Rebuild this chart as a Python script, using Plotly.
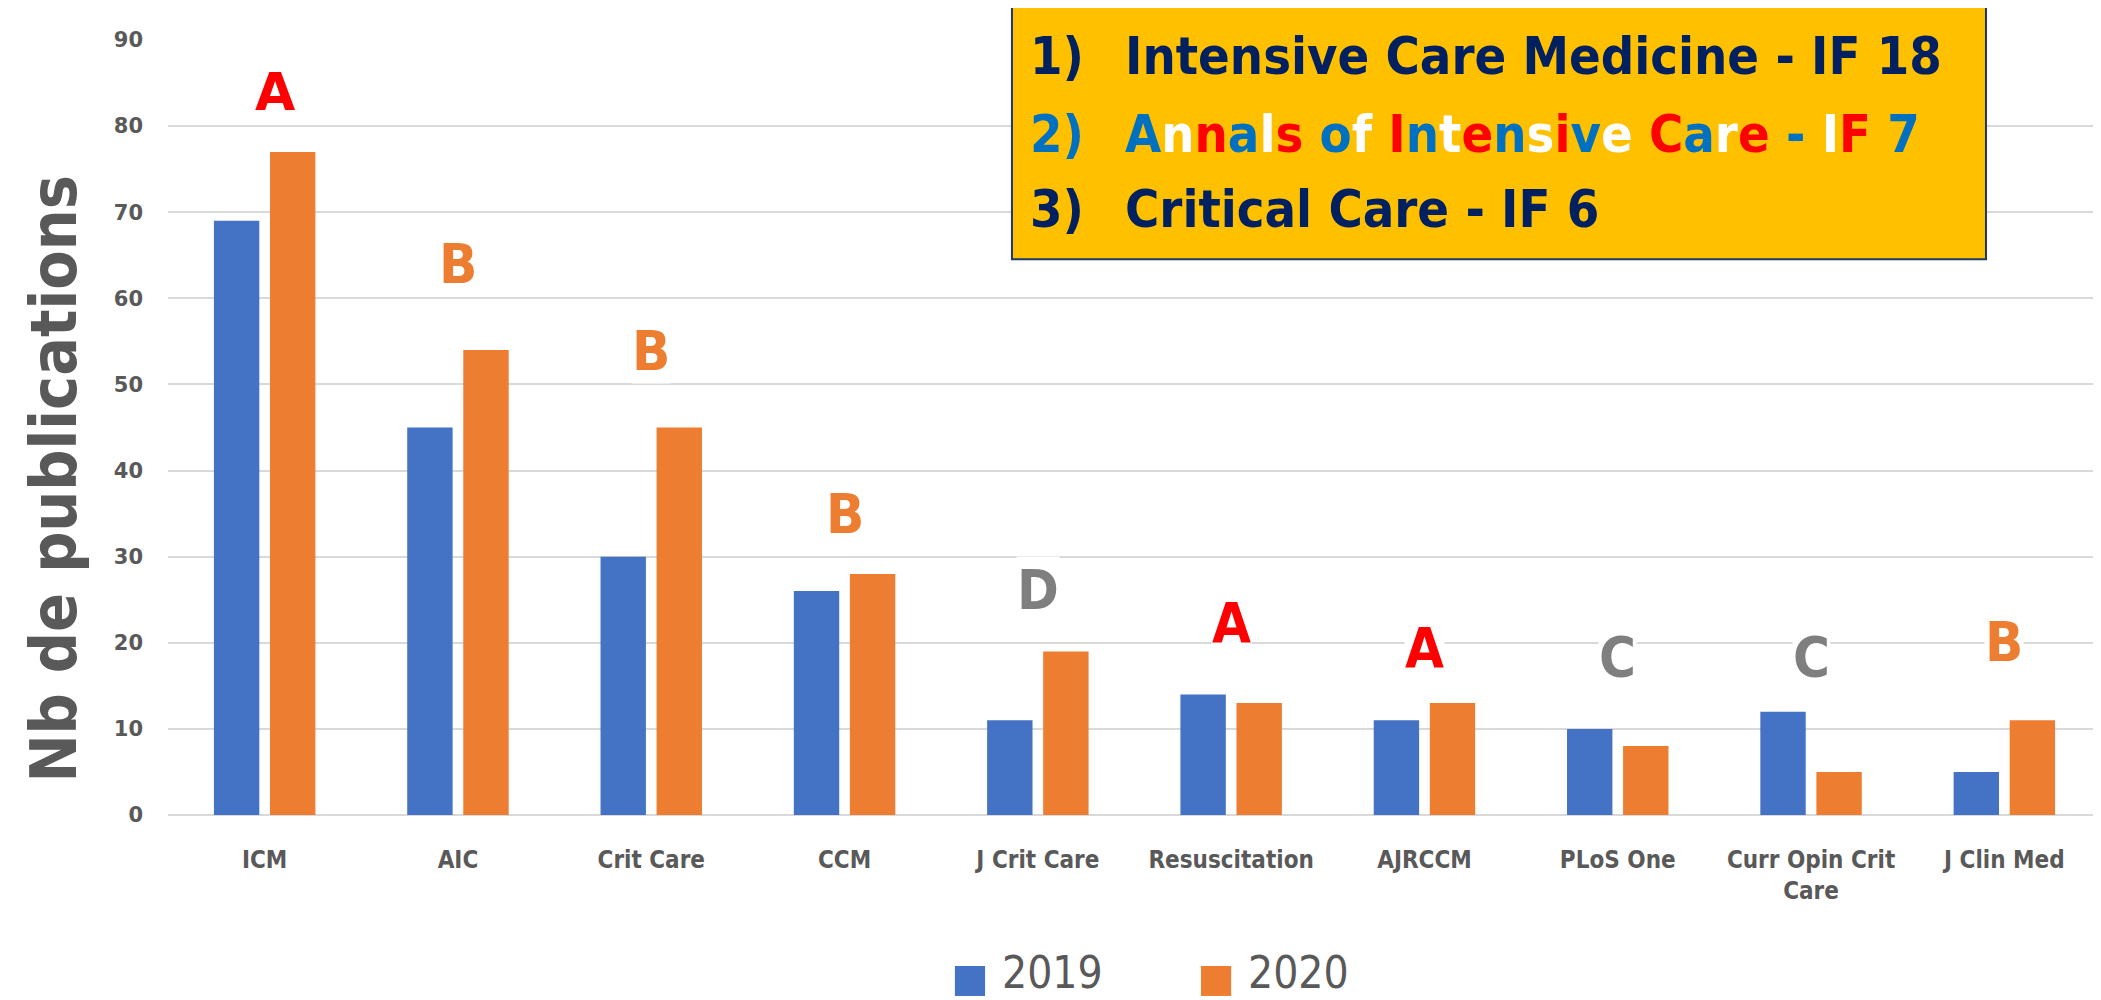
import plotly.graph_objects as go

# ── Data ──────────────────────────────────────────────────────────────────────
journals = ["ICM", "AIC", "Crit Care", "CCM", "J Crit Care", "Resuscitation",
            "AJRCCM", "PLoS One", "Curr Opin Crit<br>Care", "J Clin Med"]
pubs_2019 = [69, 45, 30, 26, 11, 14, 11, 10, 12, 5]
pubs_2020 = [77, 54, 45, 28, 19, 13, 13, 8, 5, 11]

grades = ["A", "B", "B", "B", "D", "A", "A", "C", "C", "B"]
grade_y = [84, 64, 54, 35, 26.2, 22.3, 19.5, 18.4, 18.4, 20.2]

ranking = ["1)", "2)", "3)"]
ranked_titles = ["Intensive Care Medicine - IF 18",
                 "Annals of Intensive Care - IF 7",
                 "Critical Care - IF 6"]

years = ["2019", "2020"]

# ── Styles ────────────────────────────────────────────────────────────────────
BLUE = "#4472C4"
ORANGE = "#ED7D31"
GREY = "#595959"
NAVY = "#002060"
GRADE_COLORS = {"A": "#FF0000", "B": "#ED7D31", "C": "#7F7F7F", "D": "#7F7F7F"}
FLAG = ["#0070C0", "#FFFFFF", "#FF0000"]  # blue / white / red cycling
NARROW = "Liberation Sans Narrow, DejaVu Sans Condensed, sans-serif"

# page body adds an 8px offset, so the figure is shrunk by that much
PAGE_PAD = 8


def flag_text(s: str) -> str:
    out, k = [], 0
    for ch in s:
        if ch == " ":
            out.append(" ")
            continue
        out.append(f"<span style='color:{FLAG[k % 3]}'>{ch}</span>")
        k += 1
    return "".join(out)


fig = go.Figure()
fig.add_trace(go.Bar(name=years[0], x=journals, y=pubs_2019, marker_color=BLUE,
                     marker_line_width=0, showlegend=False))
fig.add_trace(go.Bar(name=years[1], x=journals, y=pubs_2020, marker_color=ORANGE,
                     marker_line_width=0, showlegend=False))

# grade letters above each pair of bars
for i, (j, g, gy) in enumerate(zip(journals, grades, grade_y)):
    fam = "DejaVu Sans" if i == 0 else NARROW
    size = 52 if i == 0 else 56
    fig.add_annotation(
        x=j, y=gy, xref="x", yref="y", text=f"<b>{g}</b>", showarrow=False,
        font=dict(family=fam, size=size, color=GRADE_COLORS[g]),
        bgcolor="#FFFFFF", borderpad=0, yanchor="middle",
        xshift=10 if i == 0 else 0,
    )

# ranking box (top right)
fig.add_shape(type="rect", xref="paper", yref="paper",
              x0=0.4366, x1=0.9405, y0=0.717, y1=1.046,
              fillcolor="#FFC000", line=dict(color="#1F3864", width=2),
              layer="above")
line_y = [0.980, 0.879, 0.782]
for n, (num, title) in enumerate(zip(ranking, ranked_titles)):
    if n == 1:
        num_txt = f"<span style='color:#0070C0'>{num}</span>"
        title_txt = flag_text(title)
    else:
        num_txt = num
        title_txt = title
    fig.add_annotation(x=0.445, y=line_y[n], xref="paper", yref="paper",
                       text=f"<b>{num_txt}</b>", showarrow=False,
                       xanchor="left", yanchor="middle",
                       font=dict(family=NARROW, size=52, color=NAVY))
    fig.add_annotation(x=0.494, y=line_y[n], xref="paper", yref="paper",
                       text=f"<b>{title_txt}</b>", showarrow=False,
                       xanchor="left", yanchor="middle",
                       font=dict(family=NARROW, size=52, color=NAVY))

# y-axis title
fig.add_annotation(x=-0.059, y=0.434, xref="paper", yref="paper",
                   text="<b>Nb de publications</b>", textangle=-90,
                   showarrow=False, xanchor="center", yanchor="middle",
                   font=dict(family=NARROW, size=64, color=GREY))

# legend drawn by hand so the swatches can be as large as the original
legend_x = [0.4071, 0.5344]
for yr, col, lx in zip(years, [BLUE, ORANGE], legend_x):
    fig.add_shape(type="rect", xref="paper", yref="paper",
                  x0=lx, x1=lx + 0.0156, y0=-0.2335, y1=-0.1948,
                  fillcolor=col, line_width=0)
    fig.add_annotation(x=lx + 0.0233, y=-0.203, xref="paper", yref="paper",
                       text=yr, showarrow=False, xanchor="left",
                       yanchor="middle",
                       font=dict(family=NARROW, size=44, color=GREY))

fig.update_layout(
    width=2101 - PAGE_PAD, height=1000 - PAGE_PAD,
    margin=dict(l=168 - PAGE_PAD, r=0, t=40 - PAGE_PAD, b=185),
    plot_bgcolor="#FFFFFF", paper_bgcolor="#FFFFFF",
    bargap=0.42, bargroupgap=0.19,
    showlegend=False,
    xaxis=dict(showgrid=False, automargin=False,
               tickfont=dict(family=NARROW, size=24, color=GREY, weight="bold"),
               ticklabelstandoff=28, showline=False, zeroline=False),
    yaxis=dict(range=[0, 90], dtick=10, showgrid=True, gridcolor="#D9D9D9",
               gridwidth=2, zeroline=True, zerolinecolor="#D9D9D9",
               zerolinewidth=2, automargin=False,
               tickfont=dict(family="DejaVu Sans", size=21, color=GREY,
                             weight="bold"),
               ticklabelstandoff=24),
)

fig.write_html("out.html")
